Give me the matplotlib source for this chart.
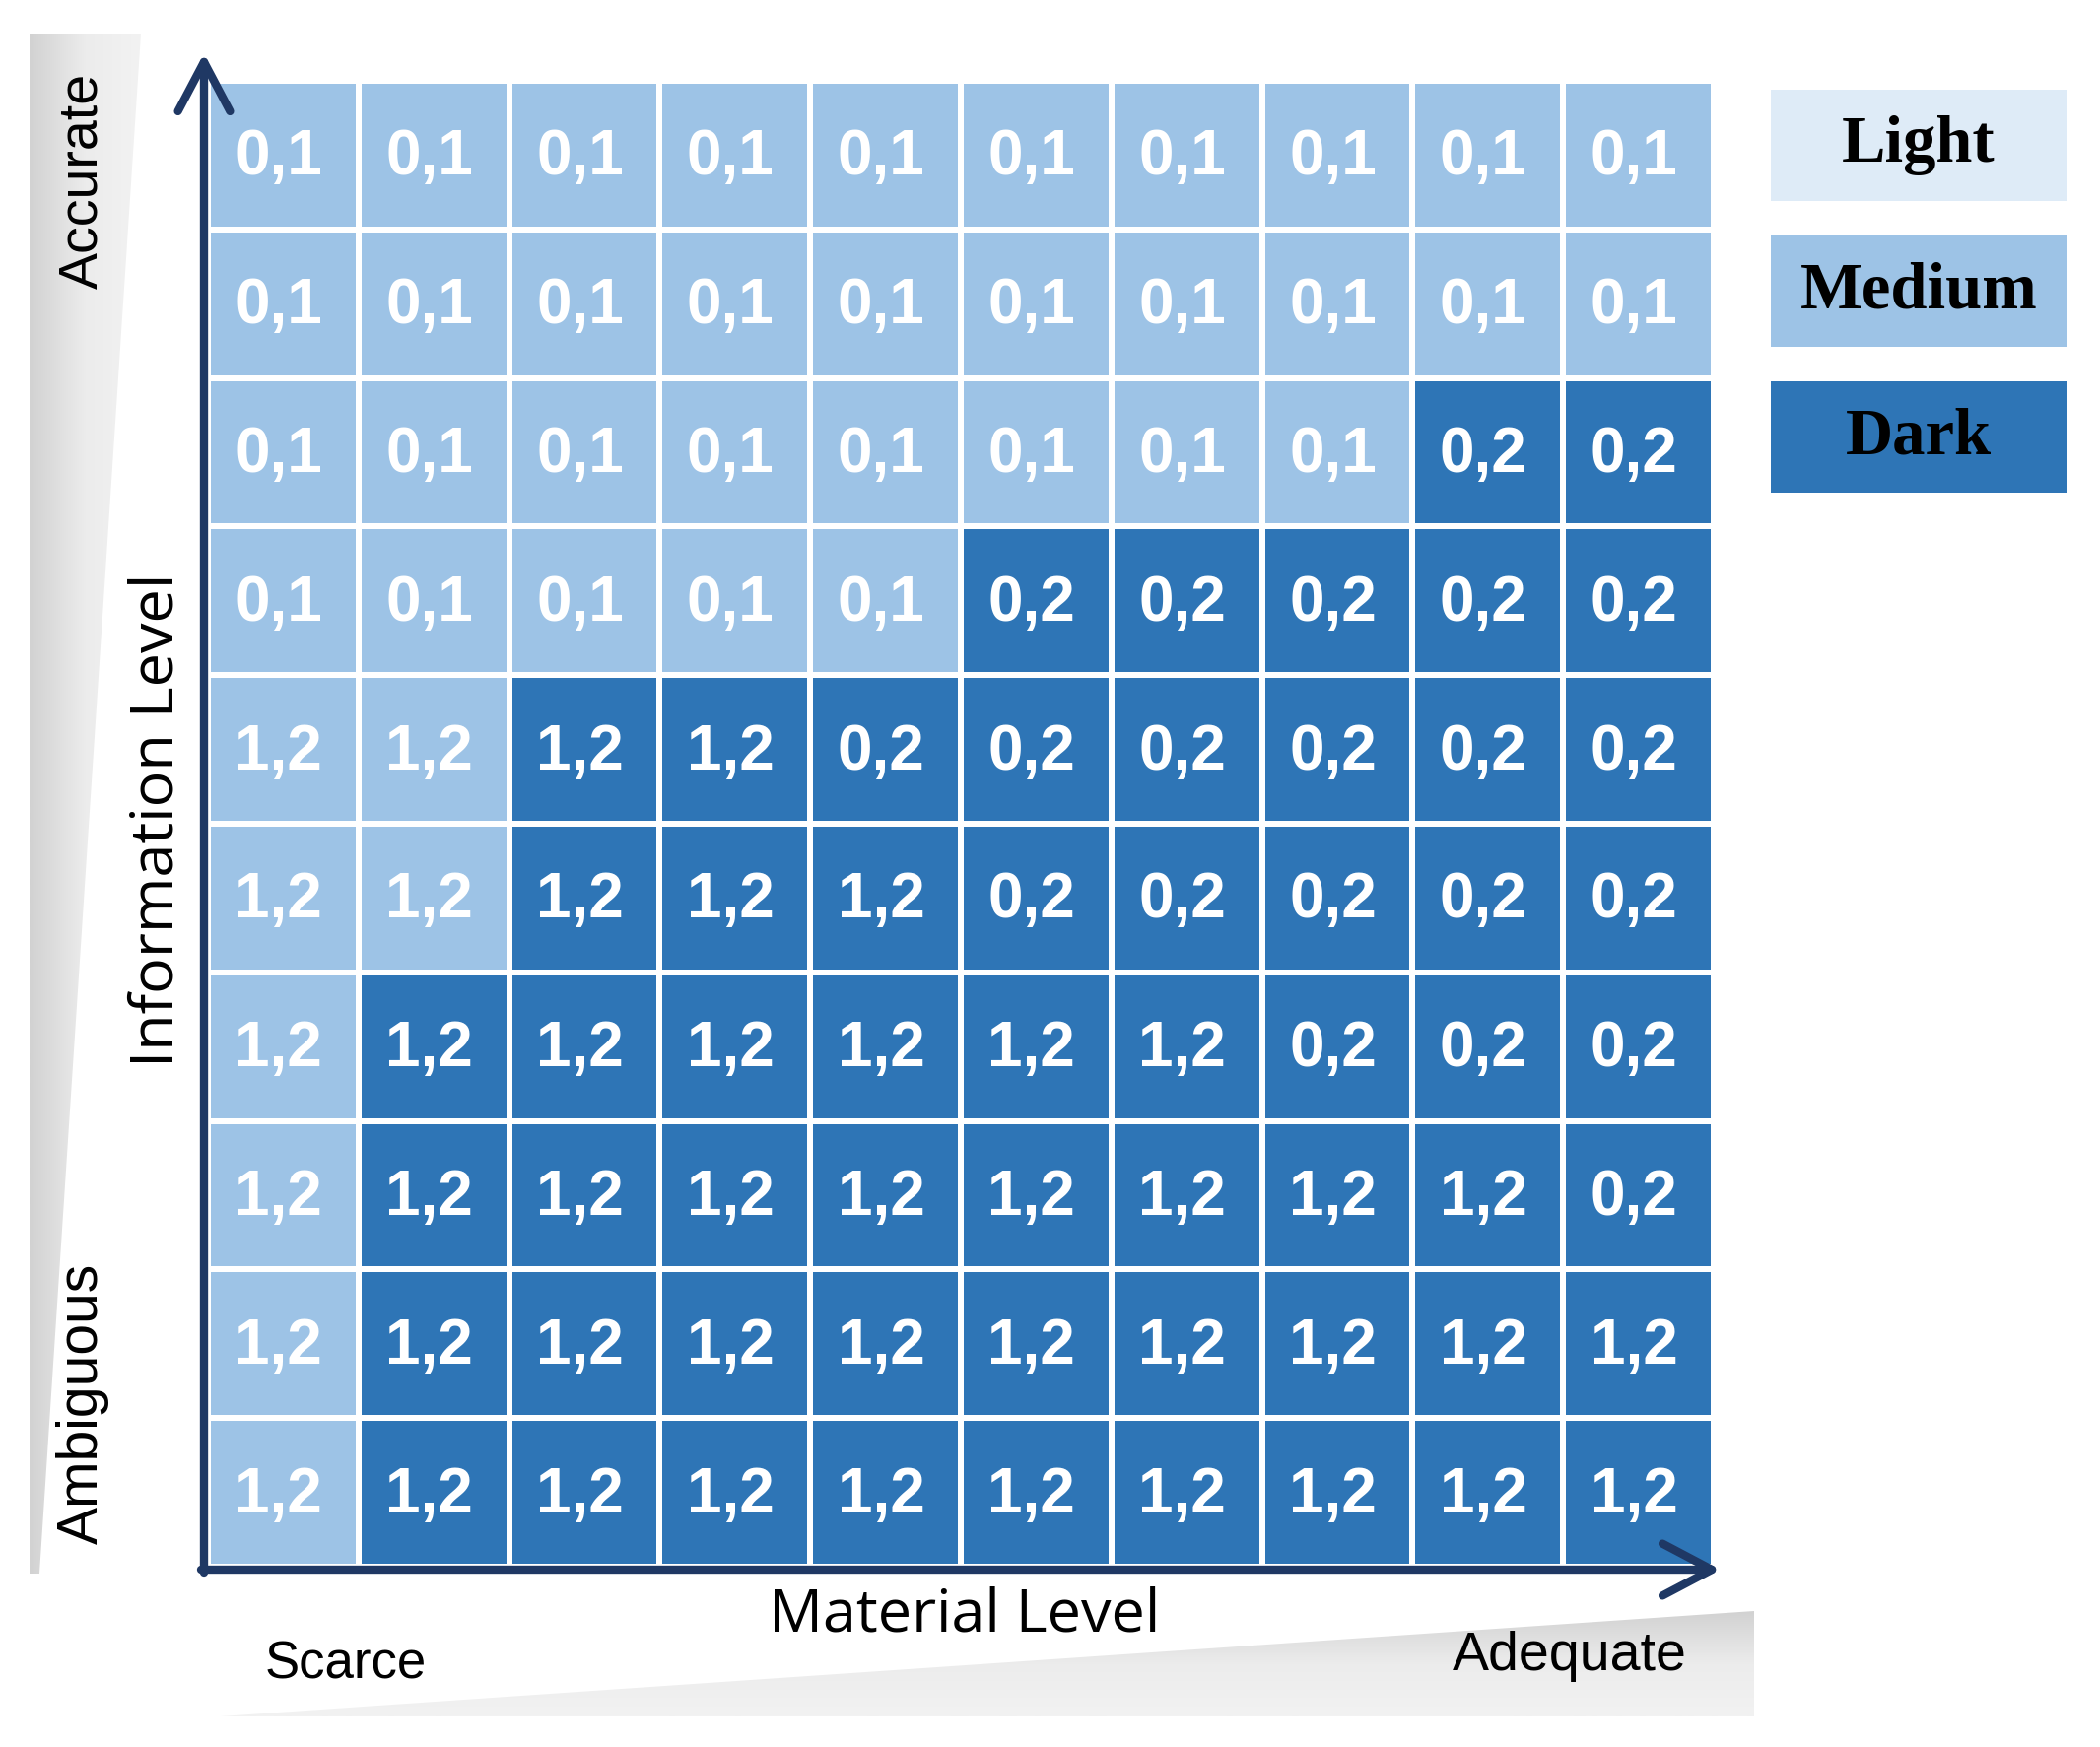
import numpy as np
import matplotlib
matplotlib.use('Agg')
import matplotlib.pyplot as plt
from matplotlib.colors import ListedColormap, LinearSegmentedColormap
from matplotlib.patches import Polygon, Rectangle
from matplotlib import font_manager

# Cell labels, top row = "Accurate", bottom row = "Ambiguous"
labels = [
    ["0,1"] * 10,
    ["0,1"] * 10,
    ["0,1"] * 8 + ["0,2"] * 2,
    ["0,1"] * 5 + ["0,2"] * 5,
    ["1,2"] * 4 + ["0,2"] * 6,
    ["1,2"] * 5 + ["0,2"] * 5,
    ["1,2"] * 7 + ["0,2"] * 3,
    ["1,2"] * 9 + ["0,2"] * 1,
    ["1,2"] * 10,
    ["1,2"] * 10,
]
# Shade of each cell: 0 = Light, 1 = Medium, 2 = Dark
shades = [
    [1] * 10,
    [1] * 10,
    [1] * 8 + [2] * 2,
    [1] * 5 + [2] * 5,
    [1, 1] + [2] * 8,
    [1, 1] + [2] * 8,
    [1] + [2] * 9,
    [1] + [2] * 9,
    [1] + [2] * 9,
    [1] + [2] * 9,
]
legend_names = ["Light", "Medium", "Dark"]
legend_colors = ["#DEEBF7", "#9DC3E6", "#2E75B6"]

installed = {f.name for f in font_manager.fontManager.ttflist}
narrow = 'Liberation Sans Narrow' if 'Liberation Sans Narrow' in installed else 'Liberation Sans'
cell_size = 53 if narrow == 'Liberation Sans Narrow' else 46

W, H = 2131, 1773
fig = plt.figure(figsize=(W / 100, H / 100), dpi=100)

# heatmap axes placed in pixel terms
gx0, gx1, gy0, gy1 = 211, 1739, 82, 1590
ax = fig.add_axes([gx0 / W, 1 - gy1 / H, (gx1 - gx0) / W, (gy1 - gy0) / H])
ax.set_zorder(1)
data = np.array(shades)[::-1]
cmap = ListedColormap(legend_colors)
ax.pcolormesh(data, cmap=cmap, vmin=-0.5, vmax=2.5, edgecolors='white', linewidth=4)
nrows = len(labels)
for r, row in enumerate(labels):
    for c, lab in enumerate(row):
        ax.text(c + 0.47, nrows - r - 0.52, lab, ha='center', va='center', color='white',
                fontsize=cell_size, fontweight='bold', family=narrow)
ax.set_xlim(0, 10)
ax.set_ylim(0, 10)
ax.axis('off')

# decoration layer in pixel coordinates
bg = fig.add_axes([0, 0, 1, 1])
bg.set_zorder(2)
bg.patch.set_alpha(0)
bg.axis('off')

grey = LinearSegmentedColormap.from_list('g', ['#d2d2d2', '#ececec', '#f2f2f2'])
# left wedge
lw_poly = Polygon([(30, 34), (143, 34), (40, 1597), (30, 1597)], closed=True,
                  facecolor='none', edgecolor='none')
bg.add_patch(lw_poly)
im = bg.imshow(np.linspace(0, 1, 64).reshape(1, -1), cmap=grey, extent=(30, 143, 1597, 34),
               aspect='auto', zorder=0)
im.set_clip_path(lw_poly)
# bottom wedge
bw_poly = Polygon([(224, 1742), (1780, 1742), (1780, 1635)], closed=True,
                  facecolor='none', edgecolor='none')
bg.add_patch(bw_poly)
im2 = bg.imshow(np.linspace(0, 1, 64).reshape(-1, 1), cmap=grey, extent=(224, 1780, 1742, 1635),
                aspect='auto', zorder=0)
im2.set_clip_path(bw_poly)
bg.set_xlim(0, W)
bg.set_ylim(H, 0)

# axis arrows
navy = '#1F3864'
bg.annotate('', xy=(207, 54), xytext=(207, 1596),
            arrowprops=dict(arrowstyle='->,head_length=3.6,head_width=1.9', lw=6, color=navy,
                            shrinkA=0, shrinkB=0))
bg.annotate('', xy=(1746, 1593), xytext=(204, 1593),
            arrowprops=dict(arrowstyle='->,head_length=3.6,head_width=1.9', lw=6, color=navy,
                            shrinkA=0, shrinkB=0))

# axis texts
bg.text(84, 183, "Accurate", rotation=90, ha='center', va='center', fontsize=40,
        family='Liberation Sans')
bg.text(84, 1424, "Ambiguous", rotation=90, ha='center', va='center', fontsize=41,
        family='Liberation Sans')
bg.text(351, 1689, "Scarce", ha='center', va='center', fontsize=38, family='Liberation Sans')
bg.text(1593, 1681, "Adequate", ha='center', va='center', fontsize=40, family='Liberation Sans')
bg.text(979, 1640, "Material Level", ha='center', va='center', fontsize=44, family='Open Sans')
bg.text(160, 832, "Information Level", rotation=90, ha='center', va='center', fontsize=44,
        family='Open Sans')

# legend
box_tops = [91, 239, 387]
for name, col, top in zip(legend_names, legend_colors, box_tops):
    bg.add_patch(Rectangle((1797, top), 301, 113, facecolor=col, edgecolor='none'))
    bg.text(1947, top + 57, name, ha='center', va='center', fontsize=48, fontweight='bold',
            family='Liberation Serif')

fig.savefig('out.png', dpi=100)
